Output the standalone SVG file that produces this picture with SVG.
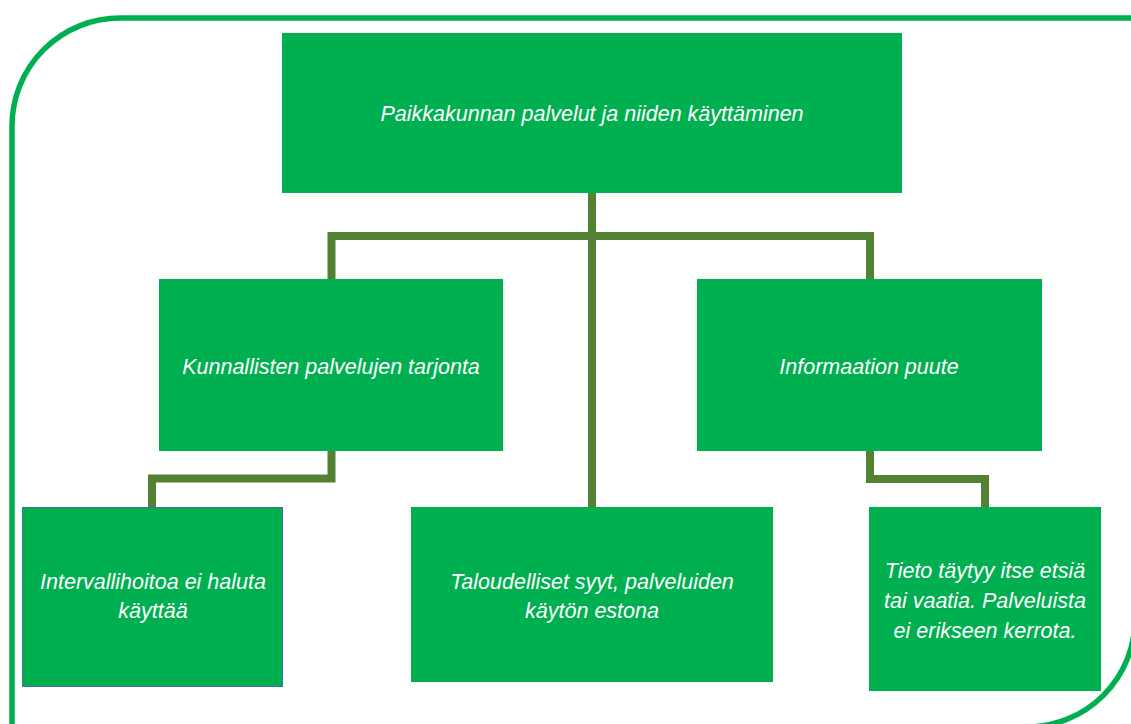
<svg xmlns="http://www.w3.org/2000/svg" width="1131" height="724" viewBox="0 0 1131 724">
<style>
.box{fill:#00B050;}
.frame{fill:none;stroke:#00B050;stroke-width:5.5;}
.conn{fill:none;stroke:#548235;stroke-width:8;stroke-linejoin:miter;}
.t{font-family:"Liberation Sans",Arial,sans-serif;font-style:italic;font-size:21.5px;fill:#FFFFFF;text-anchor:middle;}
</style>
<rect width="1131" height="724" fill="#FFFFFF"/>
<path class="frame" d="M 12 730 L 12 126 A 108 108 0 0 1 120 18 L 1135 18 L 1135 619 A 108 108 0 0 1 1027 727 L 12 727"/>
<g id="connectors">
<path class="conn" d="M 592 193 L 592 507"/>
<path class="conn" d="M 331.5 279 L 331.5 236 L 870 236 L 870 279"/>
<path class="conn" d="M 331.5 451 L 331.5 478.5 L 152 478.5 L 152 507"/>
<path class="conn" d="M 870 451 L 870 479 L 985 479 L 985 507"/>
</g>
<g id="n-top">
<rect class="box" x="282" y="33" width="620" height="160"/>
<text class="t" x="592" y="121">Paikkakunnan palvelut ja niiden käyttäminen</text>
</g>
<g id="n-kunnallisten">
<rect class="box" x="159" y="279" width="344" height="172"/>
<text class="t" x="331" y="374">Kunnallisten palvelujen tarjonta</text>
</g>
<g id="n-informaation">
<rect class="box" x="697" y="279" width="345" height="172"/>
<text class="t" x="869" y="374">Informaation puute</text>
</g>
<g id="n-intervalli">
<rect class="box" x="22.5" y="507.5" width="260" height="179" stroke="#41719C" stroke-width="1"/>
<text class="t" x="153" y="589">Intervallihoitoa ei haluta</text>
<text class="t" x="153" y="618">käyttää</text>
</g>
<g id="n-taloudelliset">
<rect class="box" x="411" y="507" width="362" height="175"/>
<text class="t" x="592" y="589">Taloudelliset syyt, palveluiden</text>
<text class="t" x="592" y="618">käytön estona</text>
</g>
<g id="n-tieto">
<rect class="box" x="869" y="507" width="232" height="184"/>
<text class="t" x="985" y="578">Tieto täytyy itse etsiä</text>
<text class="t" x="985" y="608">tai vaatia. Palveluista</text>
<text class="t" x="985" y="638">ei erikseen kerrota.</text>
</g>
</svg>
